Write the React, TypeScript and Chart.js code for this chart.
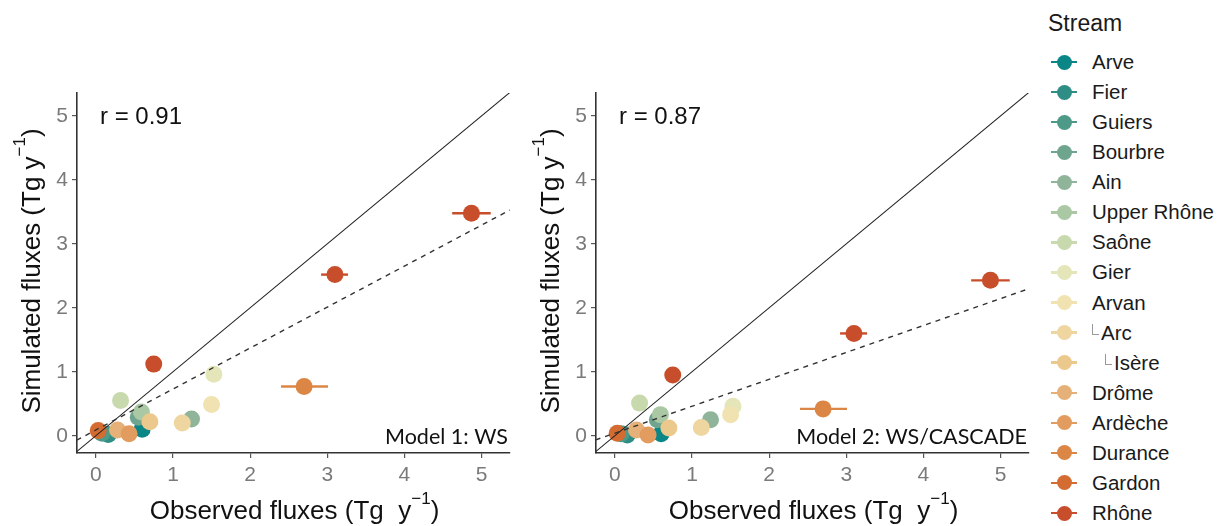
import React, { useEffect, useRef } from "react";
import { Chart, registerables } from "chart.js";
Chart.register(...registerables);

const STREAMS = ["Arve", "Fier", "Guiers", "Bourbre", "Ain", "Upper Rhône", "Saône", "Gier", "Arvan", "Arc", "Isère", "Drôme", "Ardèche", "Durance", "Gardon", "Rhône"];
const COLORS = ["#0b8686", "#2e8e85", "#4e9a89", "#6fa58f", "#8fb49a", "#aac8a3", "#c8d9ad", "#e4e6b9", "#f0e3b1", "#efd6a0", "#ebc88c", "#e5b178", "#e29c5f", "#dc8646", "#d46c31", "#c84d2b"];
const INDENT = [0, 0, 0, 0, 0, 0, 0, 0, 0, 1, 2, 0, 0, 0, 0, 0];

// observed fluxes (Tg/y), one list per stream
const OBSERVED: number[][] = [[0.6], [0.16], [0.08], [0.55], [1.24], [0.59], [0.32], [1.53], [1.5], [1.12], [0.7], [0.28], [0.43], [2.7], [0.03], [0.75, 3.1, 4.87]];
// observed uncertainty (low / high), null when not visible
const OBS_LOW: (number | null)[][] = [[null], [null], [null], [null], [null], [null], [null], [null], [null], [null], [null], [null], [null], [2.4], [null], [null, 2.92, 4.62]];
const OBS_HIGH: (number | null)[][] = [[null], [null], [null], [null], [null], [null], [null], [null], [null], [null], [null], [null], [null], [3.01], [null], [null, 3.27, 5.12]];
// simulated fluxes, model 1 (WS)
const SIM_WS: number[][] = [[0.1], [0.02], [0.04], [0.29], [0.26], [0.37], [0.55], [0.96], [0.49], [0.2], [0.22], [0.09], [0.03], [0.77], [0.08], [1.12, 2.52, 3.48]];
// simulated fluxes, model 2 (WS/CASCADE)
const SIM_CASCADE: number[][] = [[0.03], [0.01], [0.03], [0.25], [0.25], [0.33], [0.51], [0.46], [0.33], [0.13], [0.12], [0.09], [0.01], [0.42], [0.04], [0.95, 1.6, 2.43]];

const AXIS_TICKS = [0, 1, 2, 3, 4, 5];
const IDENTITY = [-1, 6];
const FIT_X = [-0.25, 5.37];
const FIT_WS_Y = [-0.07, 3.53];
const FIT_CASCADE_Y = [-0.065, 2.3];

const FONT = '"Liberation Sans", Arial, sans-serif';

function drawSupText(ctx: CanvasRenderingContext2D, pre: string, sup: string, post: string, cx: number, baseline: number) {
  const big = `26px ${FONT}`;
  const small = `17px ${FONT}`;
  ctx.font = big;
  const w1 = ctx.measureText(pre).width;
  const w3 = ctx.measureText(post).width;
  ctx.font = small;
  const w2 = ctx.measureText(sup).width;
  const x0 = cx - (w1 + w2 + w3) / 2;
  ctx.textAlign = "left";
  ctx.textBaseline = "alphabetic";
  ctx.fillStyle = "#111";
  ctx.font = big;
  ctx.fillText(pre, x0, baseline);
  ctx.font = small;
  ctx.fillText(sup, x0 + w1, baseline - 15);
  ctx.font = big;
  ctx.fillText(post, x0 + w1 + w2, baseline);
}

const errorBarPlugin = {
  id: "errorBars",
  beforeDatasetsDraw(chart: any) {
    const { ctx } = chart;
    const xs = chart.scales.x;
    const ys = chart.scales.y;
    ctx.save();
    chart.data.datasets.forEach((ds: any) => {
      if (!ds.isStream) return;
      ds.data.forEach((p: any) => {
        if (p.lo == null || p.hi == null) return;
        const py = ys.getPixelForValue(p.y);
        ctx.strokeStyle = ds.backgroundColor;
        ctx.lineWidth = 2.4;
        ctx.beginPath();
        ctx.moveTo(xs.getPixelForValue(p.lo), py);
        ctx.lineTo(xs.getPixelForValue(p.hi), py);
        ctx.stroke();
      });
    });
    ctx.restore();
  },
};

const textPlugin = {
  id: "panelText",
  afterDraw(chart: any, _args: any, opts: any) {
    const { ctx, chartArea } = chart;
    ctx.save();
    // x title
    drawSupText(ctx, "Observed fluxes (Tg  y", "\u22121", ")", (chartArea.left + chartArea.right) / 2 + 1, 519);
    // y title
    ctx.save();
    ctx.translate(40, 271);
    ctx.rotate(-Math.PI / 2);
    drawSupText(ctx, "Simulated fluxes (Tg y", "\u22121", ")", 0, 0);
    ctx.restore();
    // r label
    ctx.fillStyle = "#111";
    ctx.font = `24px ${FONT}`;
    ctx.textAlign = "left";
    ctx.textBaseline = "alphabetic";
    ctx.fillText(opts.r, chartArea.left + 23, 124);
    // model label
    ctx.font = `21.5px Lato, "Open Sans", sans-serif`;
    ctx.textAlign = "right";
    ctx.fillText(opts.model, chartArea.right - 2, 444);
    ctx.restore();
  },
};

function makeConfig(sim: number[][], fitY: number[], r: string, model: string): any {
  const streamSets = STREAMS.map((name, i) => ({
    label: name,
    isStream: true,
    data: OBSERVED[i].map((x, j) => ({ x, y: sim[i][j], lo: OBS_LOW[i][j], hi: OBS_HIGH[i][j] })),
    backgroundColor: COLORS[i],
    borderColor: COLORS[i],
    borderWidth: 0,
    pointRadius: 8.5,
    pointHoverRadius: 8.5,
    order: 40 - i,
  }));
  const identity = {
    label: "1:1",
    data: IDENTITY.map((v) => ({ x: v, y: v })),
    showLine: true,
    pointRadius: 0,
    borderColor: "#222",
    borderWidth: 1.1,
    order: 1,
  };
  const fit = {
    label: "fit",
    data: FIT_X.map((x, k) => ({ x, y: fitY[k] })),
    showLine: true,
    pointRadius: 0,
    borderColor: "#333",
    borderWidth: 1.4,
    borderDash: [5, 5],
    order: 0,
  };
  const axisCommon = {
    type: "linear",
    afterBuildTicks: (axis: any) => {
      axis.ticks = AXIS_TICKS.map((v) => ({ value: v }));
    },
    border: { display: true, color: "#333", width: 1.6 },
    grid: { display: true, drawOnChartArea: false, drawTicks: true, tickLength: 5, color: "#555", lineWidth: 1.2 },
  };
  return {
    type: "scatter",
    data: { datasets: [...streamSets, identity, fit] },
    options: {
      animation: false,
      responsive: false,
      devicePixelRatio: 1,
      layout: { padding: { top: 93, right: 10, left: 0, bottom: 0 } },
      plugins: { legend: { display: false }, tooltip: { enabled: false }, panelText: { r, model } },
      scales: {
        x: {
          ...axisCommon,
          position: "bottom",
          min: -0.245,
          max: 5.37,
          ticks: { color: "#7a7a7a", font: { size: 21, family: FONT }, padding: 5, maxRotation: 0 },
          afterFit: (s: any) => {
            s.height = 73;
          },
        },
        y: {
          ...axisCommon,
          position: "left",
          min: -0.27,
          max: 5.36,
          ticks: { color: "#7a7a7a", font: { size: 21, family: FONT }, padding: 4 },
          afterFit: (s: any) => {
            s.width = 77;
          },
        },
      },
    },
    plugins: [errorBarPlugin, textPlugin],
  };
}

function Panel({ left, sim, fitY, r, model }: { left: number; sim: number[][]; fitY: number[]; r: string; model: string }) {
  const ref = useRef<HTMLCanvasElement>(null);
  useEffect(() => {
    if (!ref.current) return;
    const chart = new Chart(ref.current, makeConfig(sim, fitY, r, model));
    return () => chart.destroy();
  }, []);
  return (
    <canvas ref={ref} width={520} height={526} style={{ position: "absolute", left, top: 0, width: 520, height: 526 }} />
  );
}

export default function App() {
  return (
    <div style={{ position: "absolute", left: 0, top: 0, width: 1220, height: 526, background: "#fff", overflow: "hidden" }}>
      <Panel left={0} sim={SIM_WS} fitY={FIT_WS_Y} r="r = 0.91" model="Model 1: WS" />
      <Panel left={519} sim={SIM_CASCADE} fitY={FIT_CASCADE_Y} r="r = 0.87" model="Model 2: WS/CASCADE" />
      <div style={{ position: "absolute", left: 1048, top: 12, font: `23px ${FONT}`, lineHeight: 1, color: "#1a1a1a" }}>Stream</div>
      {STREAMS.map((s, i) => {
        const cy = 62 + i * 30.07;
        const c = COLORS[i];
        return (
          <div key={s} style={{ position: "absolute", left: 1051, top: cy - 15, height: 30, display: "flex", alignItems: "center" }}>
            <div style={{ position: "relative", width: 26, height: 30 }}>
              <div style={{ position: "absolute", left: 0, top: 13.8, width: 26, height: 2.4, background: c }} />
              <div style={{ position: "absolute", left: 5.5, top: 7.5, width: 15, height: 15, borderRadius: "50%", background: c }} />
            </div>
            <div style={{ marginLeft: 15, display: "flex", alignItems: "center", font: `20.5px ${FONT}`, color: "#1a1a1a", whiteSpace: "nowrap" }}>
              {INDENT[i] > 0 && (
                <span
                  style={{
                    display: "inline-block",
                    marginLeft: INDENT[i] === 2 ? 13 : 0,
                    width: 6,
                    height: 10,
                    borderLeft: "1.5px solid #999",
                    borderBottom: "1.5px solid #999",
                    marginRight: 2,
                    marginTop: -6,
                  }}
                />
              )}
              <span>{s}</span>
            </div>
          </div>
        );
      })}
    </div>
  );
}
